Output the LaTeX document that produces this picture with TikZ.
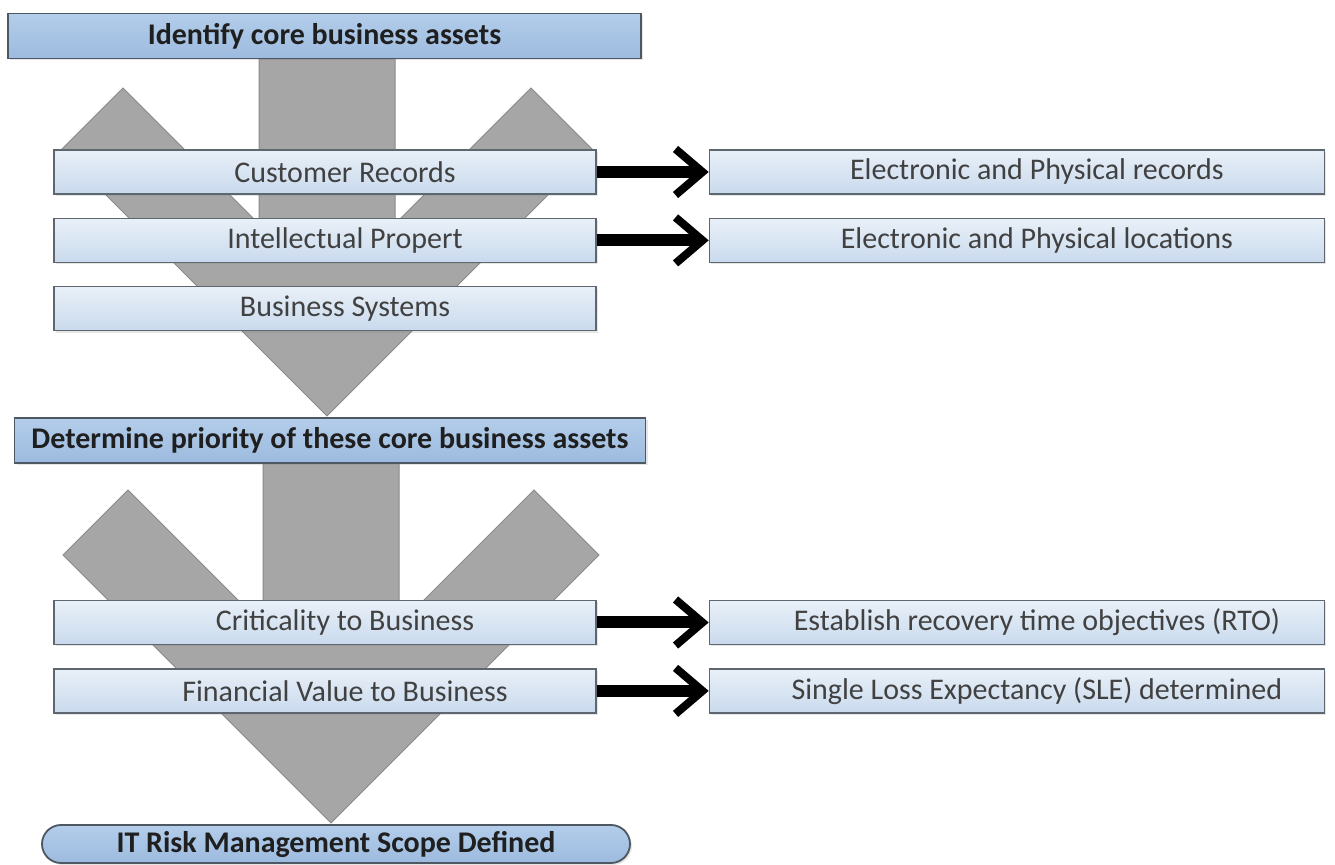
\documentclass[tikz,border=0pt]{standalone}
\usepackage{fontspec}
\setmainfont{Carlito}
\usepackage{tikz}
\usetikzlibrary{arrows.meta,positioning,shadows}
\definecolor{BoxLineA}{HTML}{4D5863}
\definecolor{BoxLineB}{HTML}{5E6770}
\definecolor{MidTop}{HTML}{B3CDEA}
\definecolor{MidBot}{HTML}{9DBBDF}
\definecolor{PaleTop}{HTML}{E9F0F8}
\definecolor{PaleBot}{HTML}{C9DAED}
\definecolor{Funnel}{HTML}{A6A6A6}
\definecolor{FunnelLine}{HTML}{8A8A8A}
\definecolor{Ink}{HTML}{1F1F1F}
\tikzset{
  stage/.style={draw=BoxLineA,line width=0.9pt,top color=MidTop,bottom color=MidBot,
    minimum width=316pt,minimum height=22.5pt,inner sep=0pt,text=Ink,
    font=\fontsize{15}{18}\selectfont\bfseries,
    drop shadow={opacity=0.2,shadow xshift=1pt,shadow yshift=-1pt}},
  item/.style={draw=BoxLineB,line width=0.7pt,top color=PaleTop,bottom color=PaleBot,
    minimum width=271pt,minimum height=22pt,inner sep=0pt,text=Ink!85,
    font=\fontsize{15}{18}\selectfont,execute at begin node={\hspace*{20pt}},
    drop shadow={opacity=0.2,shadow xshift=1pt,shadow yshift=-1pt}},
  result/.style={item,minimum width=307.5pt},
  funnel/.style={fill=Funnel,draw=FunnelLine,line width=0.5pt,line join=miter},
  fatarrow/.style={-{Straight Barb[length=13.5pt,width=23pt,line width=4pt]},
    line width=6pt,black}
}

\begin{document}
\begin{tikzpicture}[x=0.5pt,y=-0.5pt,node distance=11.5pt and 56pt]
  \useasboundingbox (0,0) rectangle (1335,865);
  % grey merge shapes behind the boxes
  \draw[funnel] (61,150) -- (123,88) -- (259,224) -- (259,59) -- (395,59)
    -- (395,224) -- (531,88) -- (593,150) -- (327,416) -- cycle;
  \draw[funnel] (63,555) -- (128,490) -- (263,625) -- (263,463) -- (399,463)
    -- (399,625) -- (534,490) -- (599,555) -- (331,823) -- cycle;

  % first stage
  \node[stage,minimum width=316.5pt] (assets) at (324.5,36) {Identify core business assets};
  \node[item] (cust) at (325,172) {Customer Records};
  \node[item,below=of cust] (ip) {Intellectual Propert};
  \node[item,below=of ip] (bizsys) {Business Systems};
  \node[result,right=of cust] (custrec) {Electronic and Physical records};
  \node[result,right=of ip] (iploc) {Electronic and Physical locations};

  % second stage
  \node[stage,minimum width=315.5pt] (priority) at (330,440.5) {Determine priority of these core business assets};
  \node[item] (crit) at (325,622.5) {Criticality to Business};
  \node[item,below=of crit] (value) {Financial Value to Business};
  \node[result,right=of crit] (rto) {Establish recovery time objectives (RTO)};
  \node[result,right=of value] (sle) {Single Loss Expectancy (SLE) determined};

  % outcome
  \node[stage,rounded corners=9.5pt,minimum width=294pt,minimum height=19pt] (scope)
    at (336,844) {IT Risk Management Scope Defined};

  \draw[fatarrow] (cust) -- (custrec);
  \draw[fatarrow] (ip) -- (iploc);
  \draw[fatarrow] (crit) -- (rto);
  \draw[fatarrow] (value) -- (sle);
\end{tikzpicture}
\end{document}
